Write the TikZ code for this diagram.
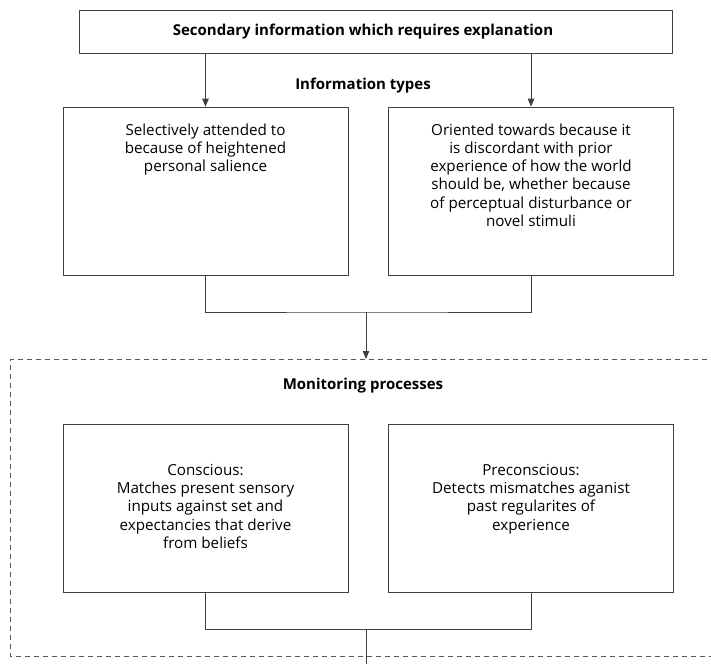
\documentclass[tikz,border=0pt]{standalone}
\usepackage{fontspec}
\setmainfont{Open Sans}
\usetikzlibrary{arrows.meta,positioning}
\definecolor{linegray}{gray}{0.25}
\definecolor{dashgray}{gray}{0.35}

\begin{document}
\begin{tikzpicture}[x=1pt,y=-1pt,>={Triangle[length=8pt,width=6.5pt]},
                    line width=0.8pt,
                    infobox/.style={draw=linegray,minimum width=285pt,minimum height=168pt,inner sep=0pt},
                    boxtext/.style={align=center,inner sep=0pt,font=\fontsize{15.2}{18.3}\selectfont},
                    heading/.style={font=\bfseries\fontsize{15}{17}\selectfont},
                    link/.style={draw=linegray},
                    frame/.style={draw=dashgray,dash pattern=on 5pt off 4pt}]
  \useasboundingbox (0,0) rectangle (711,664);

  % information types
  \node[draw=linegray,minimum width=593pt,minimum height=43pt,inner sep=0pt]
                                  (secondary) at (375.5,31.5) {};
  \node[heading]                  (secondarytext) at (363,31.5) {Secondary information which requires explanation};
  \node[heading]                  (types)     at (363,86)     {Information types};
  \node[infobox]                  (selective) at (205.5,191)  {};
  \node[infobox]                  (oriented)  at (531,191)    {};
  \node[boxtext,below=16.5pt of selective.north] (selectivetext)
    {Selectively attended to\\because of heightened\\personal salience};
  \node[boxtext,below=16.5pt of oriented.north]  (orientedtext)
    {Oriented towards because it\\is discordant with prior\\experience of how the world\\should be, whether because\\of perceptual disturbance or\\novel stimuli};

  % monitoring processes
  \coordinate (frameNE) at (716,359);
  \coordinate (frameSW) at (10.7,656);
  \coordinate (frameSE) at (716,656);
  \node[heading]                  (monitoring)   at (363,386) {Monitoring processes};
  \node[infobox]                  (conscious)    at (205.5,508) {};
  \node[infobox]                  (preconscious) at (531,508)   {};
  \node[boxtext,below=40pt of conscious.north]    (conscioustext)
    {Conscious:\\Matches present sensory\\inputs against set and\\expectancies that derive\\from beliefs};
  \node[boxtext,below=40pt of preconscious.north] (preconscioustext)
    {Preconscious:\\Detects mismatches aganist\\past regularites of\\experience};

  \coordinate (typesjoin) at (366,312);
  \coordinate (frametop)  at (366,359);
  \coordinate (monjoin)   at (366,629);
  \coordinate (exit)      at (366,664);

  \draw[frame] (frameNE) -| (frameSW) -- (frameSE);

  \draw[link,->] (secondary.south -| selective.north) -- (selective.north);
  \draw[link,->] (secondary.south -| oriented.north)  -- (oriented.north);
  \draw[link] (selective.south) |- (typesjoin) -| (oriented.south);
  \draw[link,->] (typesjoin) -- (frametop);
  \draw[link] (conscious.south) |- (monjoin) -| (preconscious.south);
  \draw[link] (monjoin) -- (exit);
\end{tikzpicture}
\end{document}
